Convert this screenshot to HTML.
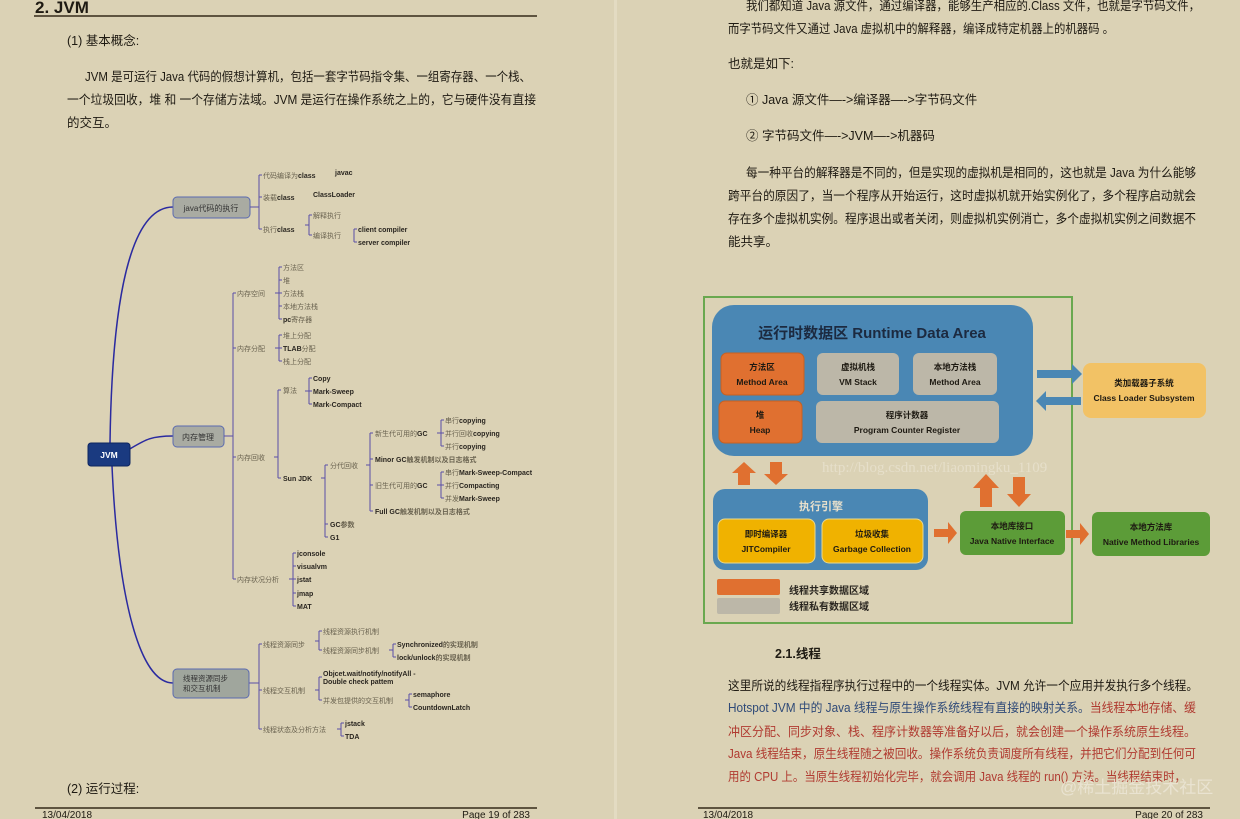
<!DOCTYPE html>
<html><head><meta charset="utf-8"><style>
html,body{margin:0;padding:0;background:#dbd2b5;}
svg{display:block;font-family:"Liberation Sans","Noto Sans CJK SC",sans-serif;}
.p{font-size:12.5px;fill:#1e1a12;}
.s{font-size:7px;fill:#6a6350;}
.b{font-size:7px;fill:#2a2620;font-weight:bold;}
.ln{stroke:#5a4fa8;stroke-width:1;fill:none;}
.wb{font-weight:bold;fill:#1e1a12;text-anchor:middle;font-size:8.5px;}
</style></head><body>
<svg width="1240" height="819" viewBox="0 0 1240 819">
<rect width="1240" height="819" fill="#dbd2b5"/>
<rect x="614" y="0" width="3" height="819" fill="#e3dbc2"/>

<!-- LEFT PAGE -->
<text x="35" y="13" font-size="17" font-weight="bold" fill="#1e1a12">2. JVM</text>
<rect x="34" y="15" width="503" height="2" fill="#5e5440"/>
<text class="p" x="67" y="45">(1) 基本概念:</text>
<text class="p" x="85" y="81" textLength="446" lengthAdjust="spacingAndGlyphs">JVM 是可运行 Java 代码的假想计算机，包括一套字节码指令集、一组寄存器、一个栈、</text>
<text class="p" x="67" y="104" textLength="469" lengthAdjust="spacingAndGlyphs">一个垃圾回收，堆 和 一个存储方法域。JVM 是运行在操作系统之上的，它与硬件没有直接</text>
<text class="p" x="67" y="127">的交互。</text>
<text class="p" x="67" y="793">(2) 运行过程:</text>
<rect x="35" y="807" width="502" height="2" fill="#5e5440"/>
<text x="42" y="818" font-size="10" fill="#1e1a12">13/04/2018</text>
<text x="530" y="818" font-size="10" fill="#1e1a12" text-anchor="end">Page 19 of 283</text>

<!-- mind map curves -->
<path d="M110 443 C 112 300, 130 207, 173 207" stroke="#2a2aa0" stroke-width="1.5" fill="none"/>
<path d="M128 450 C 145 440, 150 436, 173 436" stroke="#2a2aa0" stroke-width="1.5" fill="none"/>
<path d="M112 466 C 118 600, 140 683, 173 683" stroke="#2a2aa0" stroke-width="1.5" fill="none"/>
<rect x="88" y="443" width="42" height="23" rx="3" fill="#1a3a80" stroke="#0e2560"/>
<text x="109" y="458" font-size="8.5" font-weight="bold" fill="#fff" text-anchor="middle">JVM</text>
<rect x="173" y="197" width="77" height="21" rx="4" fill="#a9aba2" stroke="#5a6ab0"/>
<text x="211" y="211" font-size="8" fill="#333" text-anchor="middle">java代码的执行</text>
<rect x="173" y="426" width="51" height="21" rx="4" fill="#a9aba2" stroke="#5a6ab0"/>
<text x="198" y="440" font-size="8" fill="#333" text-anchor="middle">内存管理</text>
<rect x="173" y="669" width="76" height="29" rx="4" fill="#a0a69d" stroke="#5a6ab0"/>
<text x="183" y="681" font-size="7.5" fill="#333">线程资源同步</text>
<text x="183" y="691" font-size="7.5" fill="#333">和交互机制</text>

<!-- java branch -->
<path class="ln" d="M250 207 H259 M259 175 V229 M259 175 h3 M259 197 h3 M259 229 h3"/>
<text class="s" x="263" y="178">代码编译为<tspan class="b">class</tspan></text>
<text class="b" x="335" y="175">javac</text>
<text class="b" x="313" y="197">ClassLoader</text>
<text class="s" x="263" y="200">装载<tspan class="b">class</tspan></text>
<text class="s" x="263" y="232">执行<tspan class="b">class</tspan></text>
<path class="ln" d="M309 215 V235 M309 215 h3 M309 235 h3 M305 225 h4 M354 229 V242 M354 229 h3 M354 242 h3"/>
<text class="s" x="313" y="218">解释执行</text>
<text class="s" x="313" y="238">编译执行</text>
<text class="b" x="358" y="232">client compiler</text>
<text class="b" x="358" y="245">server compiler</text>

<!-- memory branch -->
<path class="ln" d="M224 436 H233 M233 293 V579 M233 293 h3 M233 348 h3 M233 457 h3 M233 579 h3"/>
<text class="s" x="237" y="296">内存空间</text>
<path class="ln" d="M279 267 V319 M279 267 h3 M279 280 h3 M279 293 h3 M279 306 h3 M279 319 h3 M275 293 h4"/>
<text class="s" x="283" y="270">方法区</text>
<text class="s" x="283" y="283">堆</text>
<text class="s" x="283" y="296">方法栈</text>
<text class="s" x="283" y="309">本地方法栈</text>
<text class="s" x="283" y="322"><tspan class="b">pc</tspan>寄存器</text>
<text class="s" x="237" y="351">内存分配</text>
<path class="ln" d="M279 335 V361 M279 335 h3 M279 348 h3 M279 361 h3 M275 348 h4"/>
<text class="s" x="283" y="338">堆上分配</text>
<text class="s" x="283" y="351"><tspan class="b">TLAB</tspan>分配</text>
<text class="s" x="283" y="364">栈上分配</text>
<text class="s" x="237" y="460">内存回收</text>
<path class="ln" d="M278 390 V478 M278 390 h3 M278 478 h3 M274 457 h4"/>
<text class="s" x="283" y="393">算法</text>
<path class="ln" d="M309 378 V404 M309 378 h3 M309 391 h3 M309 404 h3 M305 391 h4"/>
<text class="b" x="313" y="381">Copy</text>
<text class="b" x="313" y="394">Mark-Sweep</text>
<text class="b" x="313" y="407">Mark-Compact</text>
<text class="b" x="283" y="481">Sun JDK</text>
<path class="ln" d="M325 465 V537 M325 465 h3 M325 524 h3 M325 537 h3 M321 478 h4"/>
<text class="s" x="330" y="468">分代回收</text>
<text class="b" x="330" y="527">GC<tspan class="s">参数</tspan></text>
<text class="b" x="330" y="540">G1</text>
<path class="ln" d="M370 433 V511 M370 433 h3 M370 459 h3 M370 485 h3 M370 511 h3 M366 465 h4"/>
<text class="s" x="375" y="436">新生代可用的<tspan class="b">GC</tspan></text>
<text class="b" x="375" y="462">Minor GC<tspan class="s">触发机制以及日志格式</tspan></text>
<text class="s" x="375" y="488">旧生代可用的<tspan class="b">GC</tspan></text>
<text class="b" x="375" y="514">Full GC<tspan class="s">触发机制以及日志格式</tspan></text>
<path class="ln" d="M441 420 V446 M441 420 h3 M441 433 h3 M441 446 h3 M437 433 h4 M441 472 V498 M441 472 h3 M441 485 h3 M441 498 h3 M437 485 h4"/>
<text class="s" x="445" y="423">串行<tspan class="b">copying</tspan></text>
<text class="s" x="445" y="436">并行回收<tspan class="b">copying</tspan></text>
<text class="s" x="445" y="449">并行<tspan class="b">copying</tspan></text>
<text class="s" x="445" y="475">串行<tspan class="b">Mark-Sweep-Compact</tspan></text>
<text class="s" x="445" y="488">并行<tspan class="b">Compacting</tspan></text>
<text class="s" x="445" y="501">并发<tspan class="b">Mark-Sweep</tspan></text>
<text class="s" x="237" y="582">内存状况分析</text>
<path class="ln" d="M293 553 V606 M293 553 h3 M293 566 h3 M293 579 h3 M293 593 h3 M293 606 h3 M289 579 h4"/>
<text class="b" x="297" y="556">jconsole</text>
<text class="b" x="297" y="569">visualvm</text>
<text class="b" x="297" y="582">jstat</text>
<text class="b" x="297" y="596">jmap</text>
<text class="b" x="297" y="609">MAT</text>

<!-- thread branch -->
<path class="ln" d="M249 683 H259 M259 644 V729 M259 644 h3 M259 690 h3 M259 729 h3"/>
<text class="s" x="263" y="647">线程资源同步</text>
<path class="ln" d="M319 631 V650 M319 631 h3 M319 650 h3 M315 641 h4 M393 644 V657 M393 644 h3 M393 657 h3 M389 650 h4"/>
<text class="s" x="323" y="634">线程资源执行机制</text>
<text class="s" x="323" y="653">线程资源同步机制</text>
<text class="b" x="397" y="647">Synchronized<tspan class="s">的实现机制</tspan></text>
<text class="b" x="397" y="660">lock/unlock<tspan class="s">的实现机制</tspan></text>
<text class="s" x="263" y="693">线程交互机制</text>
<path class="ln" d="M319 677 V700 M319 677 h3 M319 700 h3 M315 690 h4 M409 694 V707 M409 694 h3 M409 707 h3 M405 700 h4"/>
<text class="b" x="323" y="676">Objcet.wait/notify/notifyAll -</text>
<text class="b" x="323" y="684">Double check pattem</text>
<text class="s" x="323" y="703">并发包提供的交互机制</text>
<text class="b" x="413" y="697">semaphore</text>
<text class="b" x="413" y="710">CountdownLatch</text>
<text class="s" x="263" y="732">线程状态及分析方法</text>
<path class="ln" d="M341 723 V736 M341 723 h3 M341 736 h3 M337 729 h4"/>
<text class="b" x="345" y="726">jstack</text>
<text class="b" x="345" y="739">TDA</text>

<!-- RIGHT PAGE -->
<text class="p" x="746" y="10" textLength="454" lengthAdjust="spacingAndGlyphs">我们都知道 Java 源文件，通过编译器，能够生产相应的.Class 文件，也就是字节码文件，</text>
<text class="p" x="728" y="33" textLength="386" lengthAdjust="spacingAndGlyphs">而字节码文件又通过 Java 虚拟机中的解释器，编译成特定机器上的机器码 。</text>
<text class="p" x="728" y="68">也就是如下:</text>
<text class="p" x="746" y="104">① Java 源文件—-&gt;编译器—-&gt;字节码文件</text>
<text class="p" x="746" y="140">② 字节码文件—-&gt;JVM—-&gt;机器码</text>
<text class="p" x="746" y="177" textLength="450" lengthAdjust="spacingAndGlyphs">每一种平台的解释器是不同的，但是实现的虚拟机是相同的，这也就是 Java 为什么能够</text>
<text class="p" x="728" y="200" textLength="468" lengthAdjust="spacingAndGlyphs">跨平台的原因了，当一个程序从开始运行，这时虚拟机就开始实例化了，多个程序启动就会</text>
<text class="p" x="728" y="223" textLength="468" lengthAdjust="spacingAndGlyphs">存在多个虚拟机实例。程序退出或者关闭，则虚拟机实例消亡，多个虚拟机实例之间数据不</text>
<text class="p" x="728" y="246">能共享。</text>

<!-- diagram -->
<rect x="704" y="297" width="368" height="326" fill="none" stroke="#6aa84f" stroke-width="2"/>
<rect x="712" y="305" width="321" height="151" rx="22" fill="#4a87b4"/>
<text x="872" y="338" font-size="15" font-weight="bold" fill="#1c2a40" text-anchor="middle">运行时数据区  Runtime Data Area</text>
<rect x="721" y="353" width="83" height="42" rx="6" fill="#e07030" stroke="#c86020"/>
<text class="wb" x="762" y="370">方法区</text><text class="wb" x="762" y="385">Method Area</text>
<rect x="817" y="353" width="82" height="42" rx="6" fill="#bcb7a8"/>
<text class="wb" x="858" y="370">虚拟机栈</text><text class="wb" x="858" y="385">VM Stack</text>
<rect x="913" y="353" width="84" height="42" rx="6" fill="#bcb7a8"/>
<text class="wb" x="955" y="370">本地方法栈</text><text class="wb" x="955" y="385">Method Area</text>
<rect x="719" y="401" width="83" height="42" rx="6" fill="#e07030" stroke="#c86020"/>
<text class="wb" x="760" y="418">堆</text><text class="wb" x="760" y="433">Heap</text>
<rect x="816" y="401" width="183" height="42" rx="6" fill="#bcb7a8"/>
<text class="wb" x="907" y="418">程序计数器</text><text class="wb" x="907" y="433">Program Counter Register</text>
<!-- blue arrows -->
<polygon points="1037,370 1072,370 1072,364 1082,374 1072,384 1072,378 1037,378" fill="#4a87b4"/>
<polygon points="1081,397 1046,397 1046,391 1036,401 1046,411 1046,405 1081,405" fill="#4a87b4"/>
<rect x="1083" y="363" width="123" height="55" rx="8" fill="#f2c265"/>
<text class="wb" x="1144" y="386">类加载器子系统</text><text class="wb" x="1144" y="401">Class Loader Subsystem</text>
<text x="822" y="472" font-size="15" font-family="Liberation Serif,serif" fill="#e6dfca">http://blog.csdn.net/liaomingku_1109</text>
<!-- orange arrows -->
<polygon points="744,462 756,473 750,473 750,485 738,485 738,473 732,473" fill="#e07030"/>
<polygon points="776,485 788,474 782,474 782,462 770,462 770,474 764,474" fill="#e07030"/>
<polygon points="986,474 999,488 992,488 992,507 980,507 980,488 973,488" fill="#e07030"/>
<polygon points="1019,507 1031,494 1025,494 1025,477 1013,477 1013,494 1007,494" fill="#e07030"/>
<rect x="713" y="489" width="215" height="81" rx="12" fill="#4a87b4"/>
<text x="821" y="510" font-size="11" font-weight="bold" fill="#e8e0cc" text-anchor="middle">执行引擎</text>
<rect x="718" y="519" width="97" height="44" rx="7" fill="#f0b200" stroke="#e8d890"/>
<text class="wb" x="766" y="537">即时编译器</text><text class="wb" x="766" y="552">JITCompiler</text>
<rect x="822" y="519" width="101" height="44" rx="7" fill="#f0b200" stroke="#e8d890"/>
<text class="wb" x="872" y="537">垃圾收集</text><text class="wb" x="872" y="552">Garbage Collection</text>
<polygon points="934,529 948,529 948,522 957,533 948,544 948,537 934,537" fill="#e07030"/>
<rect x="960" y="511" width="105" height="44" rx="6" fill="#5c9c38"/>
<text class="wb" x="1012" y="529">本地库接口</text><text class="wb" x="1012" y="544">Java Native Interface</text>
<polygon points="1066,530 1080,530 1080,523 1089,534 1080,545 1080,538 1066,538" fill="#e07030"/>
<rect x="1092" y="512" width="118" height="44" rx="6" fill="#5c9c38"/>
<text class="wb" x="1151" y="530">本地方法库</text><text class="wb" x="1151" y="545">Native Method Libraries</text>
<rect x="717" y="579" width="63" height="16" rx="2" fill="#e07030"/>
<rect x="717" y="598" width="63" height="16" rx="2" fill="#bcb7a8"/>
<text x="789" y="594" font-size="10" font-weight="bold" fill="#2a2620">线程共享数据区域</text>
<text x="789" y="610" font-size="10" font-weight="bold" fill="#2a2620">线程私有数据区域</text>

<text x="775" y="658" font-size="12.5" font-weight="bold" fill="#1e1a12">2.1.线程</text>
<text class="p" x="728" y="690" textLength="470" lengthAdjust="spacingAndGlyphs">这里所说的线程指程序执行过程中的一个线程实体。JVM 允许一个应用并发执行多个线程。</text>
<text class="p" x="728" y="712" textLength="468" lengthAdjust="spacingAndGlyphs"><tspan fill="#2f4a78">Hotspot JVM 中的 Java 线程与原生操作系统线程有直接的映射关系。</tspan><tspan fill="#b03a30">当线程本地存储、缓</tspan></text>
<text class="p" x="728" y="736" textLength="468" lengthAdjust="spacingAndGlyphs" fill="#b03a30" style="fill:#b03a30">冲区分配、同步对象、栈、程序计数器等准备好以后，就会创建一个操作系统原生线程。</text>
<text class="p" x="728" y="758" textLength="468" lengthAdjust="spacingAndGlyphs" style="fill:#b03a30">Java 线程结束，原生线程随之被回收。操作系统负责调度所有线程，并把它们分配到任何可</text>
<text class="p" x="728" y="781" textLength="458" lengthAdjust="spacingAndGlyphs" style="fill:#b03a30">用的 CPU 上。当原生线程初始化完毕，就会调用 Java 线程的 run() 方法。当线程结束时，</text>
<text x="1060" y="793" font-size="17" fill="#ece6d6" opacity="0.85">@稀土掘金技术社区</text>
<rect x="698" y="807" width="512" height="2" fill="#5e5440"/>
<text x="703" y="818" font-size="10" fill="#1e1a12">13/04/2018</text>
<text x="1203" y="818" font-size="10" fill="#1e1a12" text-anchor="end">Page 20 of 283</text>
</svg>
</body></html>
